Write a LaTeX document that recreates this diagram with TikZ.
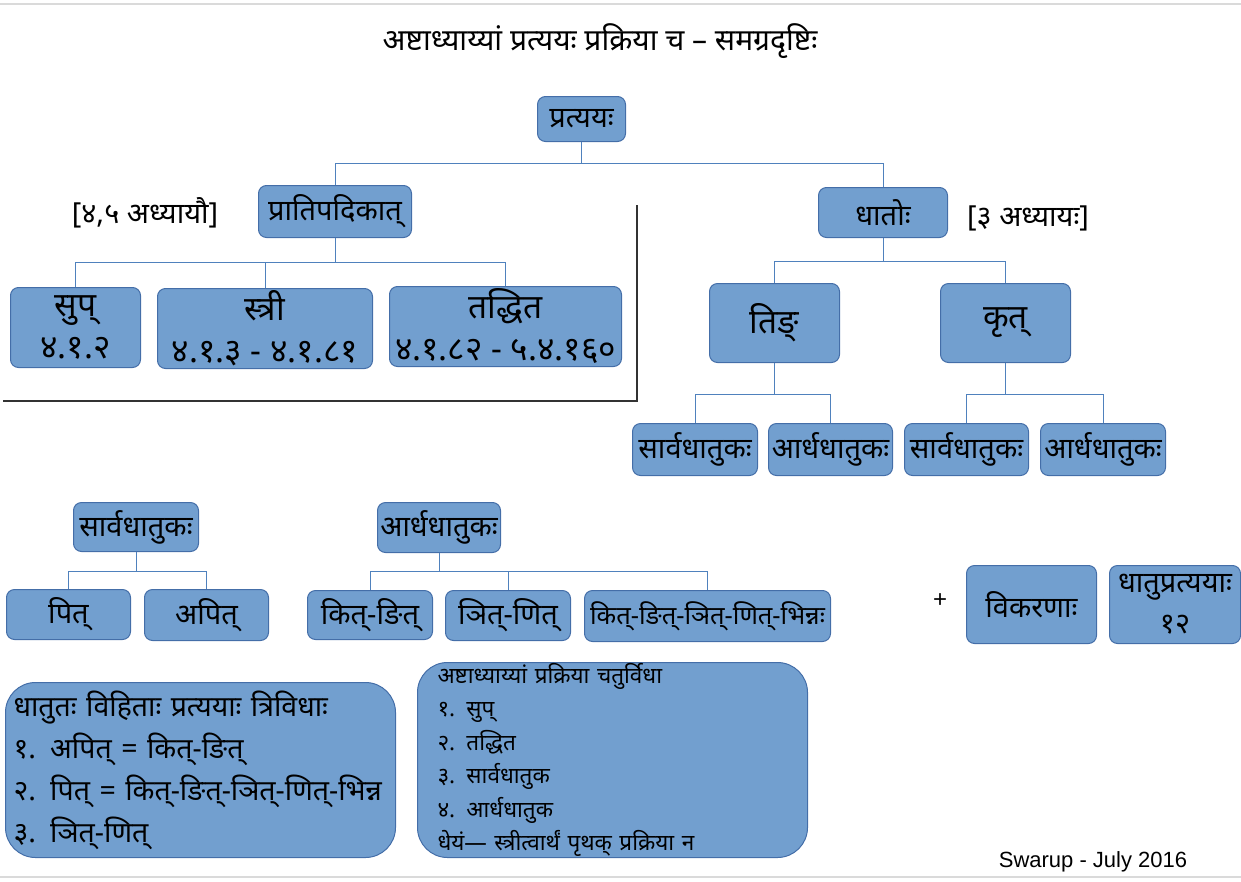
\documentclass[tikz,border=0pt]{standalone}
\usepackage{fontspec}
\setmainfont[Script=Devanagari]{Noto Sans}
\newfontfamily\latinfont{Liberation Sans}
\definecolor{boxfill}{RGB}{114,159,207}
\definecolor{boxline}{RGB}{68,110,168}
\definecolor{linkblue}{RGB}{79,129,189}
\definecolor{rulegray}{RGB}{218,218,218}

\begin{document}
\begin{tikzpicture}
        [x=1pt, y=-1pt,
        box/.style={draw=boxline, fill=boxfill, line width=1pt, rounded corners=8pt,
          inner sep=0pt, align=center, anchor=north west},
        bigbox/.style={box, rounded corners=30pt, align=left},
        link/.style={draw=linkblue, line width=0.9pt},
        sepline/.style={draw=black!80, line width=1.2pt},
        titlesize/.style={font=\fontsize{30}{34}\selectfont},
        textsize/.style={font=\fontsize{29}{41}\selectfont},
        bigsize/.style={font=\fontsize{33.5}{42}\selectfont},
        smallsize/.style={font=\fontsize{25.5}{30}\selectfont}]

    \useasboundingbox (0,0) rectangle (1241,881);
    \draw[rulegray, line width=2.5pt] (0,4) -- (1241,4);
    \draw[rulegray, line width=2.5pt] (0,877) -- (1241,877);

    \node[titlesize] (title) at (600,41) {अष्टाध्याय्यां प्रत्ययः प्रक्रिया च – समग्रदृष्टिः};

    \begin{scope}
      \node[box, textsize, minimum width=88pt, minimum height=45pt] (pratyaya) at (537,96) {प्रत्ययः};

      \node[box, textsize, minimum width=153pt, minimum height=52pt] (prati) at (258,185) {प्रातिपदिकात्};
      \node[textsize] (note45) at (145,213) {[४,५ अध्यायौ]};

      \node[box, bigsize, minimum width=130pt, minimum height=80pt] (sup) at (10,287) {सुप्\\४.१.२};
      \node[box, bigsize, minimum width=215pt, minimum height=80pt] (stri) at (157,288) {स्त्री\\४.१.३ - ४.१.८१};
      \node[box, bigsize, minimum width=232pt, minimum height=80pt] (taddhita) at (389,286) {तद्धित\\४.१.८२ - ५.४.१६०};

      \coordinate (sepL) at (3,401);
      \coordinate (sepT) at (637,205);
      \draw[sepline] (sepL) -| (sepT);
    \end{scope}

    \begin{scope}
      \node[box, textsize, minimum width=129pt, minimum height=50pt] (dhatu) at (818,187) {धातोः};
      \node[textsize] (note3) at (1028,218) {[३ अध्यायः]};

      \node[box, bigsize, minimum width=130pt, minimum height=79pt] (tin) at (709,283) {तिङ्};
      \node[box, bigsize, minimum width=130pt, minimum height=79pt] (krt) at (940,283) {कृत्};

      \node[box, textsize, minimum width=125pt, minimum height=52pt] (sarva1) at (632,423) {सार्वधातुकः};
      \node[box, textsize, minimum width=124pt, minimum height=52pt] (ardha1) at (768,423) {आर्धधातुकः};
      \node[box, textsize, minimum width=124pt, minimum height=52pt] (sarva2) at (904,423) {सार्वधातुकः};
      \node[box, textsize, minimum width=125pt, minimum height=52pt] (ardha2) at (1040,423) {आर्धधातुकः};
    \end{scope}

    \begin{scope}
      \node[box, textsize, minimum width=125pt, minimum height=49pt] (sarva) at (73,502) {सार्वधातुकः};
      \node[box, textsize, minimum width=124pt, minimum height=50pt] (pit) at (6,589) {पित्};
      \node[box, textsize, minimum width=124pt, minimum height=51pt] (apit) at (144,589) {अपित्};

      \node[box, textsize, minimum width=123pt, minimum height=50pt] (ardha) at (377,502) {आर्धधातुकः};
      \node[box, textsize, minimum width=125pt, minimum height=49pt] (kit) at (307,590) {कित्-ङित्};
      \node[box, textsize, minimum width=125pt, minimum height=50pt] (nit) at (445,590) {ञित्-णित्};
      \node[box, smallsize, minimum width=246pt, minimum height=51pt] (bhinna) at (584,590) {कित्-ङित्-ञित्-णित्-भिन्नः};

      \node[font=\latinfont\fontsize{24}{28}\selectfont] (plus) at (940,601) {+};
      \node[box, textsize, minimum width=130pt, minimum height=78pt] (vikarana) at (966,565) {विकरणाः};
      \node[box, textsize, minimum width=131pt, minimum height=78pt] (dhpratyaya) at (1109,565) {धातुप्रत्ययाः\\१२};
    \end{scope}

    \node[bigbox, font=\fontsize{28.5}{42}\selectfont, text width=374pt, inner xsep=8pt,
      minimum height=175pt] (trividha) at (5,682)
      {धातुतः विहिताः प्रत्ययाः त्रिविधाः\\
       १. अपित् = कित्-ङित्\\
       २. पित् = कित्-ङित्-ञित्-णित्-भिन्न\\
       ३. ञित्-णित्};
    \node[bigbox, font=\fontsize{22.5}{33.4}\selectfont, text width=350pt, inner xsep=20pt,
      minimum height=195pt] (caturvidha) at (417,662)
      {अष्टाध्याय्यां प्रक्रिया चतुर्विधा\\
       १. सुप्\\
       २. तद्धित\\
       ३. सार्वधातुक\\
       ४. आर्धधातुक\\
       धेयं— स्त्रीत्वार्थं पृथक् प्रक्रिया न};

    \node[font=\latinfont\fontsize{22}{26}\selectfont] (swarup) at (1093,862) {Swarup - July 2016};

    \draw[link] (pratyaya.south) -- ++(0,21) -| (prati.north);
    \draw[link] (pratyaya.south) ++(0,21) -| (dhatu.north);
    \draw[link] (prati.south) -- ++(0,24) -| (sup.north);
    \draw[link] (prati.south) ++(0,24) -| (stri.north);
    \draw[link] (prati.south) ++(0,24) -| (taddhita.north);
    \draw[link] (dhatu.south) -- ++(0,23) -| (tin.north);
    \draw[link] (dhatu.south) ++(0,23) -| (krt.north);
    \draw[link] (tin.south) -- ++(0,31) -| (sarva1.north);
    \draw[link] (tin.south) ++(0,31) -| (ardha1.north);
    \draw[link] (krt.south) -- ++(0,31) -| (sarva2.north);
    \draw[link] (krt.south) ++(0,31) -| (ardha2.north);
    \draw[link] (sarva.south) -- ++(0,19) -| (pit.north);
    \draw[link] (sarva.south) ++(0,19) -| (apit.north);
    \draw[link] (ardha.south) -- ++(0,18) -| (kit.north);
    \draw[link] (ardha.south) ++(0,18) -| (nit.north);
    \draw[link] (ardha.south) ++(0,18) -| (bhinna.north);
    \end{tikzpicture}
\end{document}
